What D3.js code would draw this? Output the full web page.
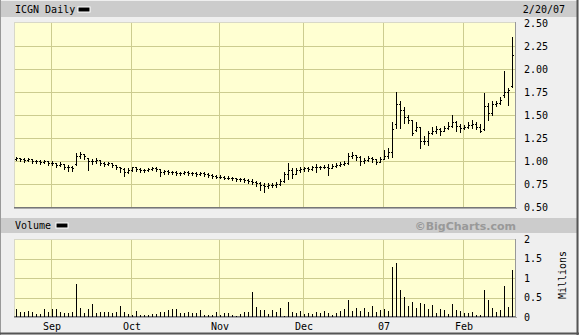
<!DOCTYPE html>
<html>
<head>
<meta charset="utf-8">
<script src="https://cdn.jsdelivr.net/npm/d3@7"></script>
<style>
  body { margin: 0; background: #efefef; }
  text { font-family: "DejaVu Sans Mono", monospace; font-size: 10px; fill: #000; }
</style>
</head>
<body>
<div id="container"></div>
<script>
// daily bars, Aug 21 2006 .. Feb 20 2007 (125 trading days)
var opens = [1.02,1.03,1.02,1.01,1.02,1.00,1.00,0.99,1.00,
  0.98,0.98,0.96,0.97,0.94,0.93,0.97,1.05,1.08,1.03,1.00,1.00,1.01,0.98,0.97,0.98,0.96,0.94,0.91,0.88,
  0.90,0.93,0.91,0.90,0.90,0.91,0.92,0.91,0.88,0.89,0.88,0.88,0.87,0.87,0.88,0.87,0.87,0.86,0.87,0.86,0.85,0.84,
  0.83,0.83,0.82,0.82,0.81,0.80,0.80,0.79,0.78,0.77,0.76,0.74,0.73,0.74,0.74,0.75,0.78,0.86,0.90,0.86,0.90,
  0.91,0.92,0.91,0.93,0.94,0.93,0.94,0.92,0.95,0.96,0.97,0.98,1.05,1.07,1.04,1.00,1.01,1.03,1.02,0.99,
  1.02,1.05,1.10,1.40,1.62,1.55,1.48,1.45,1.34,1.37,1.22,1.22,1.30,1.33,1.35,1.33,1.36,1.38,1.42,1.38,
  1.36,1.37,1.39,1.40,1.37,1.35,1.60,1.52,1.62,1.63,1.72,1.75,1.82];
var highs = [1.04,1.03,1.03,1.03,1.02,1.01,1.01,1.01,1.00,
  1.00,0.98,0.99,0.97,0.96,0.95,1.09,1.10,1.08,1.03,1.02,1.03,1.01,0.99,0.99,0.98,0.96,0.94,0.92,0.92,
  0.94,0.93,0.92,0.91,0.92,0.93,0.93,0.91,0.90,0.90,0.89,0.89,0.88,0.89,0.89,0.88,0.88,0.88,0.88,0.87,0.86,0.85,
  0.85,0.84,0.84,0.83,0.82,0.82,0.81,0.80,0.80,0.78,0.77,0.76,0.76,0.76,0.77,0.80,0.88,0.98,0.92,0.92,0.93,
  0.94,0.93,0.95,0.97,0.95,0.96,0.97,0.97,0.98,0.99,1.00,1.09,1.10,1.07,1.05,1.03,1.05,1.04,1.02,1.04,
  1.12,1.14,1.42,1.75,1.65,1.59,1.50,1.45,1.42,1.37,1.27,1.33,1.37,1.38,1.36,1.38,1.42,1.50,1.43,1.40,
  1.39,1.42,1.45,1.42,1.40,1.74,1.63,1.65,1.65,1.70,1.98,1.79,2.35];
var lows = [1.01,1.00,0.99,1.00,0.98,0.98,0.97,0.98,0.96,
  0.96,0.94,0.95,0.91,0.89,0.89,0.96,1.03,1.02,0.90,0.97,0.98,0.96,0.95,0.96,0.93,0.91,0.88,0.84,0.87,
  0.89,0.89,0.88,0.88,0.89,0.90,0.89,0.84,0.86,0.86,0.86,0.85,0.85,0.86,0.85,0.85,0.84,0.85,0.84,0.83,0.82,0.81,
  0.81,0.80,0.80,0.79,0.78,0.78,0.77,0.76,0.75,0.73,0.69,0.66,0.71,0.72,0.72,0.74,0.77,0.80,0.82,0.86,0.88,
  0.89,0.89,0.90,0.88,0.91,0.92,0.85,0.92,0.94,0.95,0.96,0.97,1.03,1.01,0.96,0.98,1.00,0.99,0.97,0.99,
  1.02,1.03,1.04,1.36,1.36,1.41,1.41,1.28,1.33,1.14,1.18,1.17,1.29,1.30,1.28,1.33,1.35,1.37,1.33,1.32,
  1.35,1.36,1.36,1.35,1.31,1.34,1.45,1.50,1.60,1.62,1.70,1.61,1.80];
var closes = [1.03,1.02,1.01,1.02,1.00,1.00,0.99,1.00,0.98,
  0.98,0.96,0.97,0.94,0.93,0.92,1.05,1.08,1.05,1.00,1.00,1.01,0.98,0.97,0.98,0.96,0.94,0.92,0.88,0.90,
  0.93,0.91,0.90,0.90,0.91,0.92,0.91,0.88,0.89,0.88,0.88,0.87,0.87,0.88,0.87,0.87,0.86,0.87,0.86,0.85,0.84,0.83,
  0.83,0.82,0.82,0.81,0.80,0.80,0.79,0.78,0.77,0.76,0.74,0.73,0.74,0.74,0.75,0.78,0.86,0.90,0.86,0.90,0.91,
  0.92,0.91,0.93,0.94,0.93,0.94,0.92,0.95,0.96,0.97,0.98,1.05,1.07,1.04,1.00,1.01,1.03,1.02,0.99,1.02,
  1.05,1.10,1.35,1.62,1.55,1.48,1.45,1.30,1.37,1.22,1.22,1.30,1.33,1.35,1.33,1.36,1.38,1.42,1.38,1.36,
  1.37,1.39,1.40,1.37,1.33,1.60,1.52,1.62,1.63,1.66,1.75,1.77,2.15];
// volume in millions
var volumes = [0.21,0.12,0.12,0.16,0.14,0.08,0.07,0.21,0.12,
  0.21,0.21,0.14,0.10,0.10,0.14,0.85,0.23,0.10,0.21,0.34,0.11,0.12,0.14,0.14,0.11,0.12,0.29,0.14,0.07,
  0.05,0.16,0.06,0.05,0.05,0.085,0.085,0.14,0.14,0.19,0.21,0.21,0.10,0.10,0.12,0.10,0.09,0.19,0.06,0.05,0.05,0.14,
  0.06,0.11,0.11,0.05,0.02,0.085,0.14,0.12,0.65,0.26,0.19,0.19,0.085,0.19,0.14,0.24,0.02,0.39,0.14,0.11,0.16,
  0.085,0.09,0.085,0.14,0.11,0.16,0.11,0.06,0.11,0.16,0.21,0.44,0.16,0.24,0.16,0.24,0.14,0.29,0.14,0.19,
  0.21,0.16,1.29,1.39,0.68,0.52,0.29,0.39,0.24,0.37,0.34,0.21,0.32,0.11,0.21,0.19,0.085,0.34,0.19,0.16,
  0.11,0.11,0.14,0.06,0.06,0.70,0.43,0.24,0.14,0.19,0.80,0.26,1.21];

var monthLabels = ["Sep", "Oct", "Nov", "Dec", "07", "Feb"];
var monthStart = [9, 29, 51, 72, 92, 112];   // bar index of first trading day
var priceTicks = [0.5, 0.75, 1.0, 1.25, 1.5, 1.75, 2.0, 2.25, 2.5];
var volTicks = [0, 0.5, 1, 1.5, 2];

var drawChart = function () {
    var W = 579, H = 335;
    var left = 14, right = 516;
    var pTop = 22, pBot = 208;
    var vTop = 239, vBot = 317;

    var svg = d3.select("#container")
        .append("svg")
        .attr("width", W)
        .attr("height", H)
        .style("display", "block");

    svg.append("rect")
        .attr("width", W).attr("height", H)
        .attr("fill", "#efefef");

    // header bars
    svg.append("rect")
        .attr("x", 1).attr("y", 1).attr("width", W - 3).attr("height", 16)
        .attr("fill", "#cccccc");
    svg.append("rect")
        .attr("x", 1).attr("y", 218).attr("width", W - 3).attr("height", 15)
        .attr("fill", "#cccccc");

    // outer frame
    svg.append("line").attr("x1", 0.5).attr("y1", 0).attr("x2", 0.5).attr("y2", H)
        .attr("stroke", "#999");
    svg.append("line").attr("x1", W - 1.5).attr("y1", 0).attr("x2", W - 1.5).attr("y2", H)
        .attr("stroke", "#555").attr("stroke-width", 2);
    svg.append("line").attr("x1", 0).attr("y1", H - 1.5).attr("x2", W).attr("y2", H - 1.5)
        .attr("stroke", "#555").attr("stroke-width", 2);

    var x = d3.scaleLinear().domain([0, 124]).range([16, 512]);
    var y = d3.scaleLinear().domain([0.5, 2.5]).range([207, 23]);
    var yv = d3.scaleLinear().domain([0, 2]).range([vBot, vTop]);

    // plot backgrounds
    [[pTop, pBot], [vTop, vBot]].forEach(function (p) {
        svg.append("rect")
            .attr("x", left).attr("y", p[0])
            .attr("width", right - left).attr("height", p[1] - p[0])
            .attr("fill", "#ffffd2");
    });

    var grid = svg.append("g")
        .attr("stroke", "#cccc8f")
        .attr("shape-rendering", "crispEdges");

    grid.selectAll(".hp").data(priceTicks.slice(1, -1)).enter().append("line")
        .attr("x1", left).attr("x2", right)
        .attr("y1", function (d) { return Math.round(y(d)) + 0.5; })
        .attr("y2", function (d) { return Math.round(y(d)) + 0.5; });
    grid.selectAll(".hv").data(volTicks.slice(1, -1)).enter().append("line")
        .attr("x1", left).attr("x2", right)
        .attr("y1", function (d) { return Math.round(yv(d)) + 0.5; })
        .attr("y2", function (d) { return Math.round(yv(d)) + 0.5; });
    grid.selectAll(".vg").data(monthStart).enter().append("line")
        .attr("x1", function (d) { return x(d) - 0.5; })
        .attr("x2", function (d) { return x(d) - 0.5; })
        .attr("y1", pTop).attr("y2", pBot);
    grid.selectAll(".vg2").data(monthStart).enter().append("line")
        .attr("x1", function (d) { return x(d) - 0.5; })
        .attr("x2", function (d) { return x(d) - 0.5; })
        .attr("y1", vTop).attr("y2", vBot);

    // plot borders
    [[pTop, pBot], [vTop, vBot]].forEach(function (p) {
        var b = svg.append("g").attr("shape-rendering", "crispEdges");
        b.append("line").attr("x1", left).attr("x2", right).attr("y1", p[0] + 0.5).attr("y2", p[0] + 0.5)
            .attr("stroke", "#d8d8c8");
        b.append("line").attr("x1", left + 0.5).attr("x2", left + 0.5).attr("y1", p[0]).attr("y2", p[1])
            .attr("stroke", "#d8d8c8");
        b.append("line").attr("x1", right - 0.5).attr("x2", right - 0.5).attr("y1", p[0]).attr("y2", p[1])
            .attr("stroke", "#999");
        b.append("line").attr("x1", left).attr("x2", right).attr("y1", p[1] - 0.5).attr("y2", p[1] - 0.5)
            .attr("stroke", "#777");
        b.append("line").attr("x1", left).attr("x2", right + 1).attr("y1", p[1] + 0.5).attr("y2", p[1] + 0.5)
            .attr("stroke", "#aaa");
    });

    // price bars
    var idx = d3.range(closes.length);
    var bars = svg.append("g")
        .attr("stroke", "#000")
        .attr("shape-rendering", "crispEdges");
    bars.selectAll(".hl").data(idx).enter().append("line")
        .attr("x1", function (i) { return x(i) + 0.5; })
        .attr("x2", function (i) { return x(i) + 0.5; })
        .attr("y1", function (i) { return Math.round(y(highs[i])); })
        .attr("y2", function (i) { return Math.round(y(lows[i])) + 1; });
    bars.selectAll(".op").data(idx).enter().append("line")
        .attr("x1", function (i) { return x(i) - 1; })
        .attr("x2", function (i) { return x(i); })
        .attr("y1", function (i) { return Math.round(y(opens[i])) + 0.5; })
        .attr("y2", function (i) { return Math.round(y(opens[i])) + 0.5; });
    bars.selectAll(".cl").data(idx).enter().append("line")
        .attr("x1", function (i) { return x(i) + 1; })
        .attr("x2", function (i) { return x(i) + 2; })
        .attr("y1", function (i) { return Math.round(y(closes[i])) + 0.5; })
        .attr("y2", function (i) { return Math.round(y(closes[i])) + 0.5; });

    // volume bars
    svg.append("g")
        .attr("stroke", "#000")
        .attr("shape-rendering", "crispEdges")
        .selectAll("line").data(idx).enter().append("line")
        .attr("x1", function (i) { return x(i) + 0.5; })
        .attr("x2", function (i) { return x(i) + 0.5; })
        .attr("y1", function (i) { return Math.round(yv(volumes[i])); })
        .attr("y2", vBot);

    // axes
    var pAxis = svg.append("g")
        .attr("transform", "translate(" + right + ",0)")
        .call(d3.axisRight(y).tickValues(priceTicks).tickSize(0).tickPadding(8)
            .tickFormat(d3.format(".2f")));
    var vAxis = svg.append("g")
        .attr("transform", "translate(" + right + ",0)")
        .call(d3.axisRight(yv).tickValues(volTicks).tickSize(0).tickPadding(8)
            .tickFormat(function (d) { return String(d); }));
    [pAxis, vAxis].forEach(function (a) {
        a.select(".domain").remove();
        a.selectAll("text").style("font-family", "DejaVu Sans Mono").style("font-size", "10px");
    });

    var xAxis = svg.append("g")
        .attr("transform", "translate(0," + (vBot + 1) + ")")
        .call(d3.axisBottom(x).tickValues(monthStart).tickSize(0).tickPadding(5)
            .tickFormat(function (d, i) { return monthLabels[i]; }));
    xAxis.select(".domain").remove();
    xAxis.selectAll("text").style("font-family", "DejaVu Sans Mono").style("font-size", "10px")
        .attr("dx", "-0.5");

    // titles
    svg.append("text").attr("x", 15).attr("y", 13).text("ICGN Daily");
    svg.append("rect").attr("x", 78).attr("y", 7).attr("width", 12).attr("height", 5)
        .attr("fill", "#000").attr("stroke", "#fff");
    svg.append("text").attr("x", 565).attr("y", 13).attr("text-anchor", "end").text("2/20/07");

    svg.append("text").attr("x", 15).attr("y", 229).text("Volume");
    svg.append("rect").attr("x", 56).attr("y", 223).attr("width", 12).attr("height", 5)
        .attr("fill", "#000").attr("stroke", "#fff");
    svg.append("text").attr("x", 516).attr("y", 230).attr("text-anchor", "end")
        .style("font-family", "DejaVu Sans").style("font-weight", "bold").style("font-size", "11px")
        .style("fill", "#999").text("\u00a9BigCharts.com");

    svg.append("text")
        .attr("transform", "translate(566,275) rotate(-90)")
        .attr("text-anchor", "middle")
        .text("Millions");
};

window.onload = drawChart;
</script>
</body>
</html>
